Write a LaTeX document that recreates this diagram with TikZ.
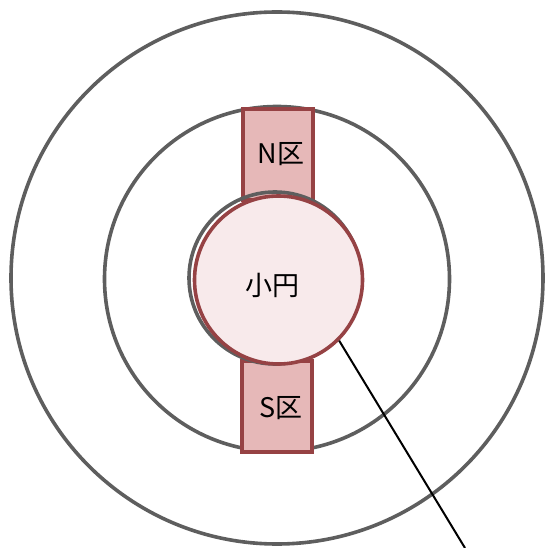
\documentclass[tikz,border=0pt]{standalone}
\usepackage{fontspec}
\setmainfont{DejaVu Sans}
\newfontfamily\cjk{Noto Sans CJK JP}
\definecolor{ringgray}{HTML}{5E5E5E}
\definecolor{zoneedge}{HTML}{964244}
\definecolor{zonefill}{HTML}{E6B8B8}
\definecolor{corefill}{HTML}{F8EAEB}
\begin{document}
\begin{tikzpicture}[x=1pt,y=-1pt,
  ring/.style={circle,draw=ringgray,line width=3.6pt,inner sep=0pt},
  zone/.style={rectangle,draw=zoneedge,fill=zonefill,line width=4pt,minimum width=70pt,minimum height=91pt,inner sep=0pt},
  core/.style={circle,draw=zoneedge,fill=corefill,line width=3.6pt,minimum size=168pt,inner sep=0pt},
  lbl/.style={font=\cjk\fontsize{27}{32}\selectfont,inner sep=0pt}]
\useasboundingbox (0,0) rectangle (550,548);
\node[ring,minimum size=532pt] (outer) at (277,278) {};
\node[ring,minimum size=345pt] (middle) at (277,279) {};
\node[zone] (nzone) at (278,154.5) {};
\node[zone] (szone) at (277,406.5) {};
\node[ring,minimum size=172pt] (ghost) at (275,278) {};
\node[core] (small) at (278.5,280) {};
\node[lbl] (nlbl) at (281,154) {N区};
\node[lbl] (slbl) at (281,408) {S区};
\node[lbl] (clbl) at (272,285) {小円};
\coordinate (tail) at (465,548);
\draw[line width=2pt,black] (small.-45) -- (tail);
\end{tikzpicture}
\end{document}
